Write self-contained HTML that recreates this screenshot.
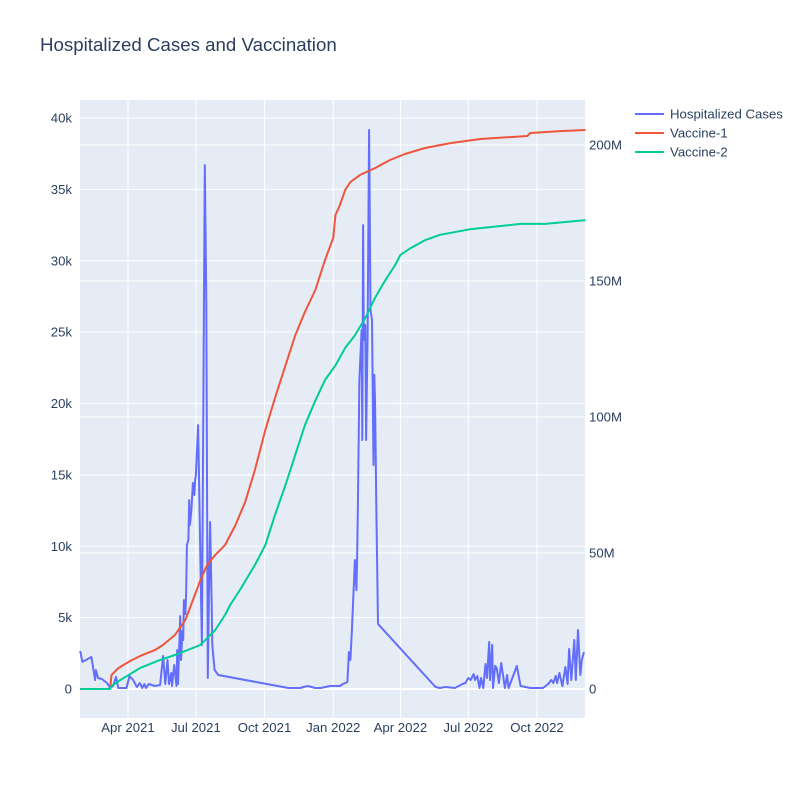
<!DOCTYPE html>
<html><head><meta charset="utf-8"><style>
body{margin:0;background:#fff}
svg text{font-family:"Liberation Sans",Arial,sans-serif;fill:#2a3f5f}
</style></head><body>
<svg id="chart" width="800" height="800" xmlns="http://www.w3.org/2000/svg">
<rect width="800" height="800" fill="#fff"/>
<text x="40" y="51" font-size="18.7">Hospitalized Cases and Vaccination</text>
<rect x="80" y="100" width="505" height="618" fill="#e5ecf6"/>
<g id="grid"></g><g id="series"></g><g id="axes"></g>
<g>
<g><line x1="635" y1="114" x2="664" y2="114" stroke="#636efa" stroke-width="2"/><text x="670" y="118.5" font-size="13.2">Hospitalized Cases</text></g>
<g><line x1="635" y1="133" x2="664" y2="133" stroke="#ef553b" stroke-width="2"/><text x="670" y="137.5" font-size="13.2">Vaccine-1</text></g>
<g><line x1="635" y1="152" x2="664" y2="152" stroke="#00cc96" stroke-width="2"/><text x="670" y="156.5" font-size="13.2">Vaccine-2</text></g>
</g>
</svg>
<script>
// day offsets from 2021-01-27
const hospDays=[0,3,15,20,21,24,29,36,40,44,48,51,55,62,66,71,76,80,83,86,88,92,100,107,111,114,117,119,122,123,126,129,130,131,134,135,137,138,139,141,142,143,145,146,147,149,151,153,154,155,158,159,161,163,166,167,169,171,173,174,176,177,180,185,279,295,299,305,315,322,335,348,352,355,358,360,362,364,368,370,371,372,374,377,378,379,380,382,383,385,387,389,391,393,394,395,397,399,476,482,489,502,512,516,520,523,527,529,532,535,537,540,543,545,548,549,552,553,556,558,561,564,566,569,572,574,580,585,590,603,620,627,631,634,637,639,642,646,650,653,655,658,662,664,667,670,672,675];
const hospVals=[2660,1900,2240,630,1330,770,700,420,70,200,840,70,70,70,910,630,140,420,70,350,70,350,210,280,2310,350,2030,350,1120,210,1680,210,2730,350,5110,2030,4060,3430,6230,5250,6930,10090,10440,13240,11490,12540,14430,13590,14640,14990,18490,15340,9040,3080,28650,36700,27250,770,8340,11700,6230,3080,1330,980,70,70,140,210,70,70,210,210,350,420,490,2590,2030,4130,9040,6930,9040,12890,21650,25150,17440,32500,24450,25500,17440,24800,39160,26550,25850,15690,22000,20250,11840,4550,140,70,140,70,350,420,770,630,1050,630,910,70,770,70,1750,770,3290,630,3080,70,1610,1470,420,1820,1120,70,980,70,910,1610,210,70,70,350,630,420,910,420,1120,210,1540,350,2800,630,3430,630,4130,980,2030,2590];
const v1Days=[0,40,42,51,67,80,100,111,127,141,151,161,170,181,194,208,221,234,248,261,275,288,301,315,328,339,342,348,355,362,375,395,415,435,462,496,536,599,603,643,677];
const v1Vals=[0,0,5.1,7.7,10.3,12.1,14.3,16.2,19.9,25.4,32.7,40,45.6,49.3,52.9,60.3,68.8,80.5,95.2,107,119,130,138.6,146.7,157.7,165.8,174.3,177.9,183.5,186.4,189,191.5,194.5,196.7,198.9,200.7,202.2,203.3,204.4,205.1,205.5];
const v2Days=[0,40,42,54,80,107,127,161,181,194,201,214,234,248,261,275,288,301,315,328,342,355,368,382,395,409,422,429,442,462,482,522,590,623,677];
const v2Vals=[0,0,1.1,3.3,7.7,10.7,12.5,16.2,21.7,27.2,30.9,36.4,45.6,52.9,64,75,86,97,106,113.6,119,125.4,130,136.4,143.8,150.4,155.9,159.6,162,165,167,169,171,171,172.4];
const leftTicks=[0,5000,10000,15000,20000,25000,30000,35000,40000];
const leftLabels=["0","5k","10k","15k","20k","25k","30k","35k","40k"];
const rightTicks=[0,50,100,150,200];
const rightLabels=["0","50M","100M","150M","200M"];
const xTickDays=[64,155,247,339,429,520,612];
const xTickLabels=["Apr 2021","Jul 2021","Oct 2021","Jan 2022","Apr 2022","Jul 2022","Oct 2022"];

const X=d=>80.2+d*0.7464;
const YL=v=>689-v*(571/40000);
const YR=v=>689-v*(544/200);
const NS="http://www.w3.org/2000/svg";
function mk(parent,tag,attrs){const e=document.createElementNS(NS,tag);for(const k in attrs)e.setAttribute(k,attrs[k]);document.getElementById(parent).appendChild(e);return e;}
xTickDays.forEach((d,i)=>{
  const g=mk('grid','line',{x1:X(d),x2:X(d),y1:100,y2:718,stroke:'#fff','stroke-width':1});
  
  
  const t=mk('axes','text',{x:X(d),y:732,'font-size':13.2,'text-anchor':'middle'});t.textContent=xTickLabels[i];
  
  
});
leftTicks.forEach((v,i)=>{
  const g=mk('grid','line',{x1:80,x2:585,y1:YL(v),y2:YL(v),stroke:'#fff','stroke-width':v===0?2:1});
  
  
  const t=mk('axes','text',{x:72,y:YL(v)+4.5,'font-size':13.2,'text-anchor':'end'});t.textContent=leftLabels[i];
  
  
});
rightTicks.forEach((v,i)=>{
  const g=mk('grid','line',{x1:80,x2:585,y1:YR(v),y2:YR(v),stroke:'#fff','stroke-width':v===0?2:1});
  
  
  const t=mk('axes','text',{x:589,y:YR(v)+4.5,'font-size':13.2});t.textContent=rightLabels[i];
  
  
});
function line(days,vals,yf,color,name){
  const p=mk('series','polyline',{points:days.map((d,i)=>X(d).toFixed(1)+','+yf(vals[i]).toFixed(1)).join(' '),fill:'none',stroke:color,'stroke-width':2,'stroke-linejoin':'round'});
  
  
}
line(hospDays,hospVals,YL,'#636efa','hospitalized-line');
line(v1Days,v1Vals,YR,'#ef553b','vaccine-1-line');
line(v2Days,v2Vals,YR,'#00cc96','vaccine-2-line');
</script>
</body></html>
